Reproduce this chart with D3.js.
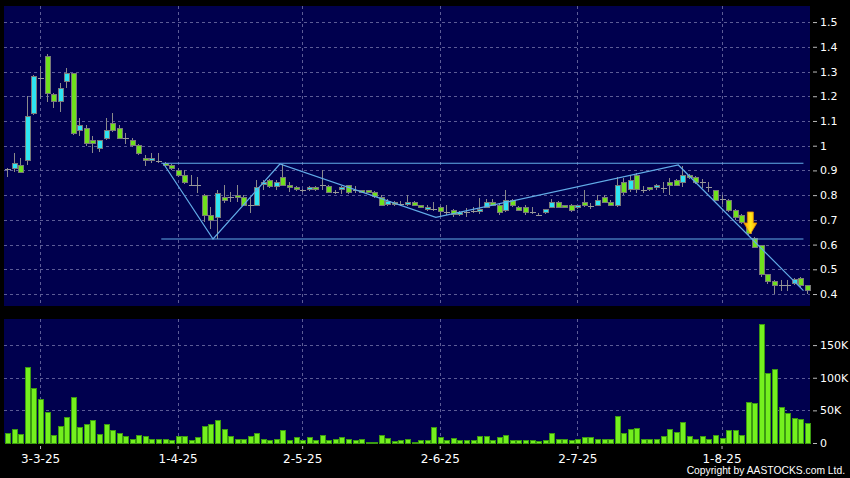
<!DOCTYPE html>
<html><head><meta charset="utf-8">
<script src="https://cdn.jsdelivr.net/npm/d3@7"></script>
<style>
html,body{margin:0;padding:0;background:#000;}
svg{display:block;}
</style></head>
<body><svg id="c" width="850" height="478"></svg>
<script>
// ---- data (trading days, index 0 = 24-2-25) ----
const open = [.905,.907,.92,.939,1.131,1.272,1.36,1.209,1.179,1.26,1.292,1.06,1.07,1.02,.989,1.03,1.09,1.07,1.032,1.023,
1.0,.947,.943,.94,.929,.92,.90,.88,.841,.841,.80,.718,.711,.79,.794,.798,.79,.76,.759,.843,
.86,.833,.87,.838,.83,.82,.821,.83,.841,.836,.811,.821,.838,.821,.818,.818,.811,.791,.763,.772,
.763,.763,.772,.757,.74,.742,.75,.733,.737,.72,.733,.736,.732,.751,.771,.759,.737,.777,.75,.75,
.73,.72,.73,.751,.771,.757,.757,.751,.771,.757,.757,.791,.771,.757,.852,.821,.879,.821,.829,.831,
.83,.852,.858,.852,.879,.872,.852,.831,.818,.784,.777,.737,.718,.669,.625,.598,.477,.45,.436,.436,
.443,.464,.434];
const high = [.91,.969,.949,1.20,1.285,1.322,1.371,1.212,1.252,1.313,1.295,1.111,1.083,1.039,1.025,1.111,1.131,1.083,1.05,1.03,
1.005,.962,.969,.969,.935,.925,.908,.902,.881,.872,.805,.753,.82,.841,.814,.841,.80,.794,.861,.861,
.865,.861,.926,.854,.835,.825,.835,.835,.902,.84,.82,.835,.842,.835,.822,.822,.815,.80,.783,.778,
.775,.80,.776,.76,.762,.771,.755,.76,.745,.735,.747,.75,.789,.783,.785,.77,.821,.785,.755,.76,
.75,.728,.745,.783,.775,.762,.765,.762,.821,.77,.80,.80,.78,.874,.87,.881,.89,.835,.832,.845,
.852,.87,.865,.918,.885,.876,.865,.854,.82,.80,.785,.745,.722,.675,.63,.60,.48,.455,.456,.456,
.465,.468,.437];
const low = [.872,.893,.89,.92,1.125,1.19,1.178,1.151,1.137,1.232,1.043,1.039,1.0,.969,.975,1.023,1.055,1.028,1.007,.995,
.962,.918,.929,.929,.915,.90,.875,.845,.838,.81,.69,.662,.622,.767,.773,.773,.755,.729,.755,.821,
.83,.821,.835,.814,.815,.811,.818,.818,.821,.81,.805,.805,.805,.81,.81,.81,.79,.755,.755,.758,
.755,.758,.755,.748,.735,.737,.71,.72,.71,.715,.71,.727,.725,.748,.755,.72,.733,.75,.735,.72,
.725,.718,.725,.748,.75,.748,.733,.745,.753,.745,.755,.768,.755,.753,.80,.814,.81,.81,.818,.82,
.81,.80,.835,.831,.865,.845,.828,.814,.775,.765,.73,.70,.685,.64,.585,.47,.44,.40,.413,.413,
.435,.43,.40];
const close = [.905,.929,.891,1.12,1.279,1.272,1.212,1.179,1.232,1.292,1.05,1.081,1.009,1.01,1.02,1.06,1.063,1.03,1.032,1.001,
.969,.943,.947,.94,.922,.907,.881,.85,.841,.841,.716,.697,.806,.78,.794,.791,.76,.76,.831,.851,
.833,.852,.84,.831,.821,.82,.83,.821,.841,.811,.811,.831,.811,.821,.812,.812,.794,.759,.773,.763,
.763,.772,.759,.753,.75,.742,.732,.733,.722,.73,.733,.736,.74,.771,.758,.73,.777,.757,.737,.73,
.73,.72,.74,.771,.751,.751,.737,.757,.758,.757,.777,.771,.757,.838,.811,.858,.821,.821,.821,.838,
.83,.841,.841,.88,.872,.852,.852,.831,.777,.784,.737,.71,.69,.643,.59,.477,.45,.435,.436,.436,
.457,.434,.413];
const volume = [15.3,20.4,12.7,115,83.3,66.4,47,11.7,25,39.3,70,23.5,29.1,34.2,12.7,28.5,19.3,15.3,10.1,6.1,
11.2,9.7,5.1,5.1,5.1,3.1,10.1,9.2,4,7.7,26,28,34.2,20,9.2,5.1,5.5,9.2,15.3,6.1,
3.1,5.5,18.9,4,7.7,4,7.7,4,11.7,3.1,5.5,7.7,5.1,3.5,6.1,1.5,1.5,11.7,6.6,2.6,
3.1,6.1,1.5,3.5,4.5,23.9,7.7,3.5,6.6,4.5,4,3.1,9.7,10.1,4.5,8.1,11.7,3.1,3.1,3.5,
3.5,2,4,15.3,6.1,5.1,3.5,5.1,8.6,8.6,5.1,5.1,6.1,39.9,13.8,20,21.9,5.1,6.1,6.1,
10.1,20.4,16,30.7,10.6,5.1,10.1,5.1,12.2,6.6,19.9,19.9,11.2,61.3,60.3,181,107,113,54.1,45.4,
37.3,35.7,29.6].map(v => v * 1000);
const xTickIndex = [5, 26, 45, 66, 87, 109];
const xTickLabels = ["3-3-25", "1-4-25", "2-5-25", "2-6-25", "2-7-25", "1-8-25"];
const priceTicks = [0.4,0.5,0.6,0.7,0.8,0.9,1.0,1.1,1.2,1.3,1.4,1.5];
const volumeTicks = [0, 50000, 100000, 150000];
// pattern annotation (index, price)
const levelLines = [[23.5, 121.5, 0.929], [23.5, 121.5, 0.6225]];
const zigzag = [[23.8, 0.929], [31.4, 0.6225], [41.6, 0.926], [65.4, 0.71], [102.4, 0.922], [121.5, 0.4135]];
const arrowTip = [113.4, 0.643];

// ---- layout ----
const L = 4, R = 810, PT = 6, PB = 306, VT = 319, VB = 443;
const n = open.length;
const svg = d3.select("#c");
svg.append("rect").attr("width",850).attr("height",478).attr("fill","#000");
const idx = d3.range(n);
const xb = d3.scaleBand().domain(idx).range([L, R]).paddingInner(0.08).paddingOuter(0.04);
const xl = d3.scaleLinear().domain([-0.5, n - 0.5]).range([L, R]);
const y = d3.scaleLinear().domain([0.3516, 1.565]).range([PB, PT]);
const yv = d3.scaleLinear().domain([0, 190000]).range([VB, VT]);
const cx = i => xl(i);

const bg = "#00004e", grid = "#5c5c96";
svg.append("rect").attr("x",L).attr("y",PT).attr("width",R-L).attr("height",PB-PT).attr("fill",bg);
svg.append("rect").attr("x",L).attr("y",VT).attr("width",R-L).attr("height",VB-VT).attr("fill",bg);

// grids
const g = svg.append("g").attr("stroke", grid).attr("stroke-width",1).attr("stroke-dasharray","3,3").attr("shape-rendering","crispEdges");
g.selectAll(".hp").data(priceTicks).join("line").attr("x1",L).attr("x2",R)
  .attr("y1",d=>Math.round(y(d))+0.5).attr("y2",d=>Math.round(y(d))+0.5);
g.selectAll(".hv").data(volumeTicks.slice(1)).join("line").attr("x1",L).attr("x2",R)
  .attr("y1",d=>Math.round(yv(d))+0.5).attr("y2",d=>Math.round(yv(d))+0.5);
g.selectAll(".vp").data(xTickIndex).join("line").attr("x1",d=>Math.round(cx(d))+0.5).attr("x2",d=>Math.round(cx(d))+0.5).attr("y1",PT).attr("y2",PB);
g.selectAll(".vv").data(xTickIndex).join("line").attr("x1",d=>Math.round(cx(d))+0.5).attr("x2",d=>Math.round(cx(d))+0.5).attr("y1",VT).attr("y2",VB);

// candles
const bw = xb.bandwidth();
const w = Math.round(bw) - 1;
const cg = svg.append("g").attr("shape-rendering","crispEdges");
cg.selectAll(".wick").data(idx).join("line")
  .attr("x1",i=>Math.round(cx(i))+0.5).attr("x2",i=>Math.round(cx(i))+0.5)
  .attr("y1",i=>y(high[i])).attr("y2",i=>y(low[i]))
  .attr("stroke","#8a8a8a").attr("stroke-width",1);
cg.selectAll(".body").data(idx.filter(i=>open[i]!==close[i])).join("rect")
  .attr("x",i=>Math.round(cx(i)) - Math.floor(w/2) + 0.5)
  .attr("y",i=>y(Math.max(open[i],close[i])))
  .attr("width",w)
  .attr("height",i=>Math.max(2, Math.abs(y(open[i])-y(close[i]))))
  .attr("fill",i=>close[i]>open[i]?"#2ee4f2":"#6fe11c")
  .attr("stroke","#7a7a7a").attr("stroke-width",1);
cg.selectAll(".doji").data(idx.filter(i=>open[i]===close[i])).join("line")
  .attr("x1",i=>Math.round(cx(i)) - Math.floor(w/2)).attr("x2",i=>Math.round(cx(i)) - Math.floor(w/2) + w + 1)
  .attr("y1",i=>Math.round(y(open[i]))+0.5).attr("y2",i=>Math.round(y(open[i]))+0.5)
  .attr("stroke","#9a9a9a").attr("stroke-width",1);

// pattern lines
const lc = "#62ace8";
svg.append("g").selectAll("line").data(levelLines).join("line")
  .attr("x1",d=>cx(d[0])).attr("x2",d=>cx(d[1])).attr("y1",d=>y(d[2])).attr("y2",d=>y(d[2]))
  .attr("stroke",lc).attr("stroke-width",1.2);
svg.append("path").datum(zigzag)
  .attr("d", d3.line().x(d=>cx(d[0])).y(d=>y(d[1])))
  .attr("fill","none").attr("stroke",lc).attr("stroke-width",1.2);

// arrow
const defs = svg.append("defs");
const gr = defs.append("linearGradient").attr("id","ag").attr("x1","0").attr("x2","1").attr("y1","0").attr("y2","0");
gr.append("stop").attr("offset","0").attr("stop-color","#ff9a00");
gr.append("stop").attr("offset","0.5").attr("stop-color","#ffe81a");
gr.append("stop").attr("offset","1").attr("stop-color","#ffb000");
const ax = cx(arrowTip[0]), ay = y(arrowTip[1]);
const arrowShape = [[-3,-22],[3,-22],[3,-11],[6.5,-11],[0,0],[-6.5,-11],[-3,-11]];
svg.append("path").datum(arrowShape)
  .attr("d", d3.line().x(p=>ax+p[0]).y(p=>ay+p[1]).curve(d3.curveLinearClosed))
  .attr("fill","url(#ag)").attr("stroke","#e08a00").attr("stroke-width",0.8);

// volume bars
svg.append("g").attr("shape-rendering","crispEdges").selectAll("rect").data(idx).join("rect")
  .attr("x",i=>Math.round(cx(i)) - Math.floor(w/2) + 0.5)
  .attr("y",i=>yv(volume[i]))
  .attr("width",w)
  .attr("height",i=>VB-yv(volume[i]))
  .attr("fill","#74f01e").attr("stroke","#3c9a12").attr("stroke-width",1);

// right axes
const fmtP = d => d3.format(".1~f")(d);
const fmtV = d => d===0 ? "0" : (d/1000)+"K";
function styleAxis(sel){
  sel.select(".domain").remove();
  sel.selectAll(".tick line").attr("stroke","#bbbbbb");
  sel.selectAll(".tick text").attr("fill","#ffffff").style("font-family","DejaVu Sans, Verdana, sans-serif").style("font-size","11px");
}
svg.append("g").attr("transform",`translate(813,0)`)
  .call(d3.axisRight(y).tickValues(priceTicks).tickFormat(fmtP).tickSize(4).tickPadding(3)).call(styleAxis);
svg.append("g").attr("transform",`translate(813,0)`)
  .call(d3.axisRight(yv).tickValues(volumeTicks).tickFormat(fmtV).tickSize(4).tickPadding(3)).call(styleAxis);

// bottom axis
const xa = d3.axisBottom(d3.scaleLinear().domain(xl.domain()).range(xl.range()))
  .tickValues(xTickIndex).tickFormat((d,k)=>xTickLabels[k]).tickSize(3).tickPadding(5);
svg.append("g").attr("transform",`translate(0,446)`).call(xa).call(sel=>{
  sel.select(".domain").remove();
  sel.selectAll(".tick line").attr("stroke","#bbbbbb");
  sel.selectAll(".tick text").attr("fill","#ffffff").style("font-family","DejaVu Sans, Verdana, sans-serif").style("font-size","12px");
});

svg.append("text").attr("x",845).attr("y",474).attr("text-anchor","end")
  .attr("fill","#ffffff").style("font-family","Liberation Sans, Arial, sans-serif").style("font-size","10.3px")
  .text("Copyright by AASTOCKS.com Ltd.");
</script></body></html>
